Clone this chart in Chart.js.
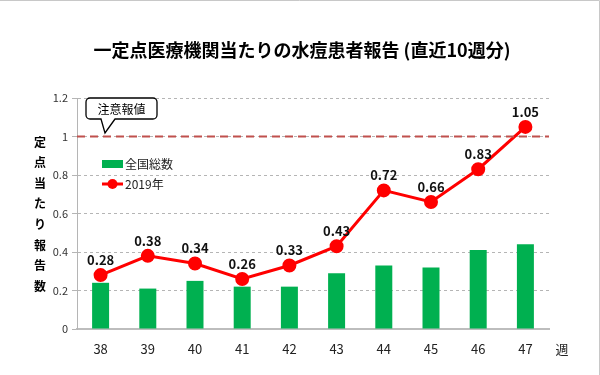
<!DOCTYPE html>
<html>
<head>
<meta charset="utf-8">
<script src="https://cdn.jsdelivr.net/npm/chart.js@4"></script>
<style>
  html, body { margin: 0; padding: 0; background: #fff; }
  #wrap { width: 600px; height: 375px; }
</style>
</head>
<body>
<div id="wrap"><canvas id="chart" width="600" height="375"></canvas></div>
<script>
// data
const weeks = ["38", "39", "40", "41", "42", "43", "44", "45", "46", "47"];
const nationalTotal = [0.24, 0.21, 0.25, 0.22, 0.22, 0.29, 0.33, 0.32, 0.41, 0.44];
const year2019 = [0.28, 0.38, 0.34, 0.26, 0.33, 0.43, 0.72, 0.66, 0.83, 1.05];
const alertValue = 1;

const JP = '"Noto Sans CJK JP", "Noto Sans", sans-serif';

// title, y title, callout, legend, labels
const decorPlugin = {
    id: "decor",
    afterDatasetsDraw(chart) {
        const ctx = chart.ctx;
        const y = chart.scales.y;
        const area = chart.chartArea;

        // alert line
        const ay = y.getPixelForValue(alertValue);
        ctx.save();
        ctx.strokeStyle = "#c0504d";
        ctx.lineWidth = 2;
        ctx.setLineDash([8, 5]);
        ctx.beginPath();
        ctx.moveTo(area.left, ay);
        ctx.lineTo(area.right, ay);
        ctx.stroke();
        ctx.restore();

        // line point labels
        const meta = chart.getDatasetMeta(1);
        ctx.save();
        ctx.font = "bold 13px " + JP;
        ctx.fillStyle = "#111";
        ctx.textAlign = "center";
        ctx.textBaseline = "middle";
        meta.data.forEach((pt, i) => {
            ctx.fillText(year2019[i].toFixed(2), pt.x, pt.y - 15);
        });
        ctx.restore();
    },
    afterDraw(chart) {
        const ctx = chart.ctx;
        ctx.save();

        // frame
        ctx.strokeStyle = "#c8c8c8";
        ctx.lineWidth = 1;
        ctx.beginPath();
        ctx.moveTo(0, 0.5);
        ctx.lineTo(599.5, 0.5);
        ctx.lineTo(599.5, 375);
        ctx.stroke();

        // main title
        ctx.fillStyle = "#000";
        ctx.font = "bold 18px " + JP;
        ctx.textAlign = "center";
        ctx.textBaseline = "middle";
        ctx.fillText("一定点医療機関当たりの水痘患者報告 (直近10週分)", 302, 50);

        // vertical y title
        ctx.font = "bold 12px " + JP;
        const chars = "定点当たり報告数".split("");
        chars.forEach((c, i) => ctx.fillText(c, 40, 142 + i * 20.6));

        // week unit
        ctx.font = "13px " + JP;
        ctx.fillStyle = "#222";
        ctx.fillText("週", 562, 349);

        // callout
        ctx.fillStyle = "#fff";
        ctx.strokeStyle = "#000";
        ctx.lineWidth = 1.3;
        ctx.beginPath();
        const bx = 86, by = 98, bw = 71, bh = 21, r = 4;
        ctx.moveTo(bx + r, by);
        ctx.lineTo(bx + bw - r, by);
        ctx.arcTo(bx + bw, by, bx + bw, by + r, r);
        ctx.lineTo(bx + bw, by + bh - r);
        ctx.arcTo(bx + bw, by + bh, bx + bw - r, by + bh, r);
        ctx.lineTo(115, by + bh);
        ctx.lineTo(105, 133);
        ctx.lineTo(101, by + bh);
        ctx.lineTo(bx + r, by + bh);
        ctx.arcTo(bx, by + bh, bx, by + bh - r, r);
        ctx.lineTo(bx, by + r);
        ctx.arcTo(bx, by, bx + r, by, r);
        ctx.closePath();
        ctx.fill();
        ctx.stroke();
        ctx.fillStyle = "#000";
        ctx.font = "12px " + JP;
        ctx.fillText("注意報値", bx + bw / 2, by + bh / 2 + 1);

        // legend
        const ds = chart.data.datasets;
        ctx.textAlign = "left";
        ctx.font = "12px " + JP;
        ctx.fillStyle = ds[0].backgroundColor;
        ctx.fillRect(102, 160, 21, 8);
        ctx.fillStyle = "#222";
        ctx.fillText(ds[0].label, 125, 164);

        ctx.strokeStyle = ds[1].borderColor;
        ctx.lineWidth = 3;
        ctx.beginPath();
        ctx.moveTo(102, 184);
        ctx.lineTo(123, 184);
        ctx.stroke();
        ctx.fillStyle = ds[1].pointBackgroundColor;
        ctx.beginPath();
        ctx.arc(112.5, 184, 5, 0, Math.PI * 2);
        ctx.fill();
        ctx.fillStyle = "#222";
        ctx.fillText(ds[1].label, 125, 184);

        ctx.restore();
    }
};

document.addEventListener("DOMContentLoaded", () => {
    const ctx = document.getElementById("chart").getContext("2d");

    new Chart(ctx, {
        data: {
            labels: weeks,
            datasets: [
                {
                    type: "bar",
                    label: "全国総数",
                    data: nationalTotal,
                    backgroundColor: "#00b050",
                    barPercentage: 0.36,
                    categoryPercentage: 1.0,
                    order: 2
                },
                {
                    type: "line",
                    label: "2019年",
                    data: year2019,
                    borderColor: "#ff0000",
                    backgroundColor: "#ff0000",
                    pointBackgroundColor: "#ff0000",
                    pointBorderColor: "#ff0000",
                    borderWidth: 3,
                    pointRadius: 5.5,
                    tension: 0,
                    order: 1
                }
            ]
        },
        options: {
            responsive: false,
            animation: false,
            layout: {
                padding: { left: 0, right: 51, top: 98, bottom: 0 }
            },
            plugins: {
                legend: { display: false },
                title: { display: false },
                tooltip: { enabled: false }
            },
            scales: {
                x: {
                    grid: { display: false, drawTicks: false },
                    border: { color: "#bdbdbd", width: 2 },
                    ticks: {
                        color: "#222",
                        padding: 12,
                        font: { size: 13, family: JP }
                    },
                    afterFit(scale) { scale.height = 46; }
                },
                y: {
                    min: 0,
                    max: 1.2,
                    ticks: {
                        stepSize: 0.2,
                        color: "#333",
                        padding: 4,
                        font: { size: 11, family: JP },
                        callback: (v) => String(Math.round(v * 10) / 10)
                    },
                    grid: {
                        color: "#b5b5b5",
                        tickLength: 5,
                        drawOnChartArea: true
                    },
                    border: { color: "#b5b5b5", width: 1, dash: [3, 3] },
                    afterFit(scale) { scale.width = 77; }
                }
            }
        },
        plugins: [decorPlugin]
    });
});
</script>
</body>
</html>
